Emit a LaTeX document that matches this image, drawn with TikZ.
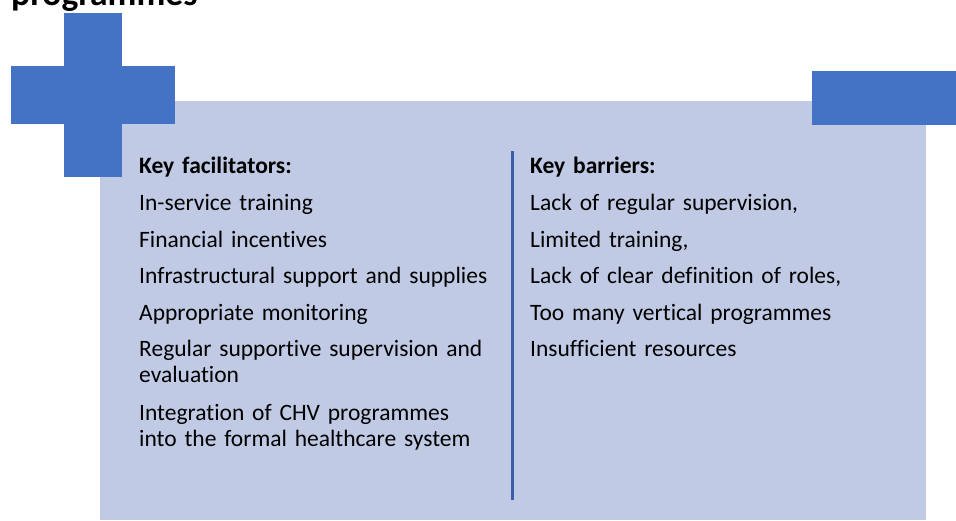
\documentclass[tikz,border=0pt]{standalone}
\usepackage{fontspec}
\setmainfont[Ligatures=NoCommon]{Carlito}
\usetikzlibrary{positioning}
\definecolor{crossblue}{HTML}{4472C4}
\definecolor{panelfill}{HTML}{C0CAE4}
\definecolor{rulecol}{HTML}{3A5EA8}
\tikzset{
  item/.style = {anchor=base west, inner sep=0pt, text width=380pt, align=left,
                 font=\fontsize{23.5}{26.5}\selectfont},
  head/.style = {item, font=\fontsize{23.5}{26.5}\selectfont\bfseries}
}

\begin{document}
\begin{tikzpicture}[x=1pt, y=-1pt]
  \useasboundingbox[clip] (0,0) rectangle (956,520);
  % title cut off at the top
  \node[anchor=base west, inner sep=0pt, font=\fontsize{35.5}{40}\selectfont\bfseries] (title) at (11,5) {programmes};
  % panel and blue shapes
  \fill[panelfill] (100,101) rectangle (926,520);
  \fill[crossblue] (64,13) rectangle (122,177);
  \fill[crossblue] (11,66) rectangle (175,124);
  \fill[crossblue] (812,71) rectangle (956,125);
  \coordinate (ruletop) at (512.5,151);
  \coordinate (rulebot) at (512.5,500);
  \draw[rulecol, line width=2.2pt] (ruletop) -- (rulebot);

  % facilitators
  \node[head] (fac) at (139,173) {Key facilitators:};
  \node[item] (f1) at (139,210) {In-service training};
  \node[item] (f2) at (139,247) {Financial incentives};
  \node[item] (f3) at (139,283) {Infrastructural support and supplies};
  \node[item] (f4) at (139,320) {Appropriate monitoring};
  \node[item] (f5) at (139,356) {Regular supportive supervision and\\evaluation};
  \node[item] (f6) at (139,420) {Integration of CHV programmes\\into the formal healthcare system};

  % barriers
  \node[head] (bar) at (530,173) {Key barriers:};
  \node[item] (b1) at (530,210) {Lack of regular supervision,};
  \node[item] (b2) at (530,247) {Limited training,};
  \node[item] (b3) at (530,283) {Lack of clear definition of roles,};
  \node[item] (b4) at (530,320) {Too many vertical programmes};
  \node[item] (b5) at (530,356) {Insufficient resources};
\end{tikzpicture}
\end{document}
